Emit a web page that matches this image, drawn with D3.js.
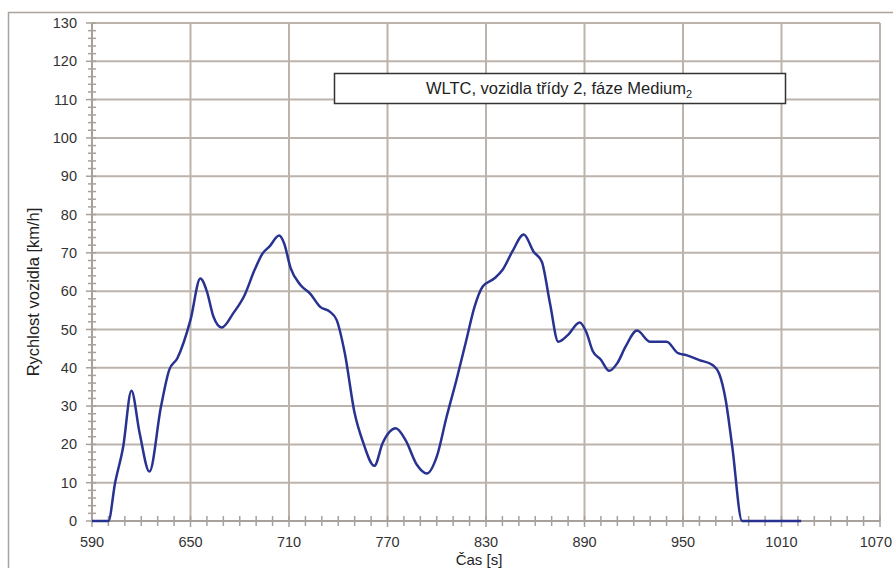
<!DOCTYPE html>
<html>
<head>
<meta charset="utf-8">
<script src="https://cdn.jsdelivr.net/npm/d3@7"></script>
<style>
  body { margin: 0; background: #fff; }
  text { font-family: "Liberation Sans", Arial, sans-serif; }
</style>
</head>
<body>
<div id="chart"></div>
<script>
// čas [s] a rychlost [km/h]
var times = [590, 600, 604, 609, 614, 619, 625, 632, 637, 642, 650, 656, 660, 664, 669, 676, 683, 689, 694, 698, 704, 707, 711, 717, 723, 729, 735, 739, 744, 750, 755, 762, 767, 775, 781, 788, 794, 800, 806, 812, 818, 823, 828, 835, 840, 846, 853, 859, 864, 869, 874, 880, 887, 891, 895, 900, 905, 910, 915, 922, 930, 940, 947, 952, 960, 968, 972, 976, 980, 986, 1022];
var speeds = [0, 0, 9.8, 19.4, 34.0, 23.0, 12.9, 29.8, 39.4, 42.5, 52.5, 63.3, 59.9, 53.3, 50.5, 54.2, 59.0, 65.5, 69.9, 71.6, 74.5, 72.5, 66.0, 61.6, 59.3, 55.9, 54.6, 52.5, 43.8, 28.1, 20.7, 14.4, 20.3, 24.2, 21.1, 14.6, 12.4, 16.8, 27.2, 36.8, 47.2, 55.9, 61.2, 63.3, 65.5, 70.3, 74.8, 70.3, 67.7, 56.8, 46.8, 48.6, 51.8, 49.4, 44.4, 42.1, 39.2, 41.2, 45.5, 49.7, 46.8, 46.8, 43.8, 43.3, 42.0, 40.7, 38.5, 31.6, 19.4, 0, 0];
var xTicks = [590, 650, 710, 770, 830, 890, 950, 1010, 1070];
var yTicks = [0, 10, 20, 30, 40, 50, 60, 70, 80, 90, 100, 110, 120, 130];

var title = 'WLTC, vozidla třídy 2, fáze Medium';

var width = 893, height = 568;
var svg = d3.select('#chart').append('svg')
    .attr('width', width)
    .attr('height', height);

var gridColor = '#bcb3ac';
var axisColor = '#a8a09a';

// rámeček grafu
svg.append('path')
    .attr('d', 'M8.5,' + height + 'V12.5H' + width)
    .attr('fill', 'none')
    .attr('stroke', '#aaa39d')
    .attr('stroke-width', 1.5);

var x = d3.scaleLinear().domain([590, 1070]).range([92, 880]);
var y = d3.scaleLinear().domain([0, 130]).range([521, 23]);

// mřížka
svg.append('g')
    .selectAll('line')
    .data(yTicks)
    .enter()
    .append('line')
    .attr('x1', x(590))
    .attr('x2', x(1070))
    .attr('y1', function(d) { return y(d); })
    .attr('y2', function(d) { return y(d); })
    .attr('stroke', gridColor)
    .attr('stroke-width', 2);

svg.append('g')
    .selectAll('line')
    .data(xTicks)
    .enter()
    .append('line')
    .attr('x1', function(d) { return x(d); })
    .attr('x2', function(d) { return x(d); })
    .attr('y1', y(0))
    .attr('y2', y(130))
    .attr('stroke', gridColor)
    .attr('stroke-width', 2);

// vedlejší značky
var yMinor = d3.range(0, 131, 2);
svg.append('g')
    .selectAll('line')
    .data(yMinor)
    .enter()
    .append('line')
    .attr('x1', function(d) { return d % 10 === 0 ? x(590) - 6 : x(590) - 4; })
    .attr('x2', x(590) + 4)
    .attr('y1', function(d) { return y(d); })
    .attr('y2', function(d) { return y(d); })
    .attr('stroke', axisColor)
    .attr('stroke-width', 1.5);

var xMinor = d3.range(590, 1071, 10);
svg.append('g')
    .selectAll('line')
    .data(xMinor)
    .enter()
    .append('line')
    .attr('x1', function(d) { return x(d); })
    .attr('x2', function(d) { return x(d); })
    .attr('y1', y(0) - 5)
    .attr('y2', function(d) { return (d - 590) % 60 === 0 ? y(0) + 6 : y(0) + 5; })
    .attr('stroke', axisColor)
    .attr('stroke-width', 1.5);

// osy
svg.append('line')
    .attr('x1', x(590)).attr('x2', x(590))
    .attr('y1', y(0)).attr('y2', y(130))
    .attr('stroke', axisColor).attr('stroke-width', 2);
svg.append('line')
    .attr('x1', x(590)).attr('x2', x(1070))
    .attr('y1', y(0)).attr('y2', y(0))
    .attr('stroke', axisColor).attr('stroke-width', 2);

// popisky os
svg.append('g')
    .selectAll('text')
    .data(yTicks)
    .enter()
    .append('text')
    .attr('x', 77)
    .attr('y', function(d) { return y(d); })
    .attr('dy', '0.35em')
    .attr('text-anchor', 'end')
    .style('font-size', '14.5px')
    .style('fill', '#333')
    .text(function(d) { return d; });

svg.append('g')
    .selectAll('text')
    .data(xTicks)
    .enter()
    .append('text')
    .attr('x', function(d, i) { return i === xTicks.length - 1 ? width - 1 : x(d); })
    .attr('y', 547)
    .attr('text-anchor', function(d, i) { return i === xTicks.length - 1 ? 'end' : 'middle'; })
    .style('font-size', '14.5px')
    .style('fill', '#333')
    .text(function(d) { return d; });

svg.append('text')
    .attr('x', 479)
    .attr('y', 564.5)
    .attr('text-anchor', 'middle')
    .style('font-size', '15px')
    .style('fill', '#222')
    .text('Čas [s]');

svg.append('text')
    .attr('transform', 'translate(39,292) rotate(-90)')
    .attr('text-anchor', 'middle')
    .style('font-size', '16.5px')
    .style('fill', '#222')
    .text('Rychlost vozidla [km/h]');

// křivka rychlosti
var data = times.map(function(t, i) { return [t, speeds[i]]; });
var line = d3.line()
    .x(function(d) { return x(d[0]); })
    .y(function(d) { return y(d[1]); })
    .curve(d3.curveMonotoneX);

svg.append('path')
    .datum(data)
    .attr('d', line)
    .attr('fill', 'none')
    .attr('stroke', '#283290')
    .attr('stroke-width', 2.5)
    .attr('stroke-linejoin', 'round');

// titulek v rámečku
svg.append('rect')
    .attr('x', 334.5)
    .attr('y', 73.5)
    .attr('width', 451)
    .attr('height', 30)
    .attr('fill', '#fff')
    .attr('stroke', '#333')
    .attr('stroke-width', 1.5);

var t = svg.append('text')
    .attr('x', 559)
    .attr('y', 94)
    .attr('text-anchor', 'middle')
    .style('font-size', '16.5px')
    .style('fill', '#222');
t.append('tspan').text(title);
t.append('tspan').attr('dy', 4).style('font-size', '11px').text('2');
</script>
</body>
</html>
